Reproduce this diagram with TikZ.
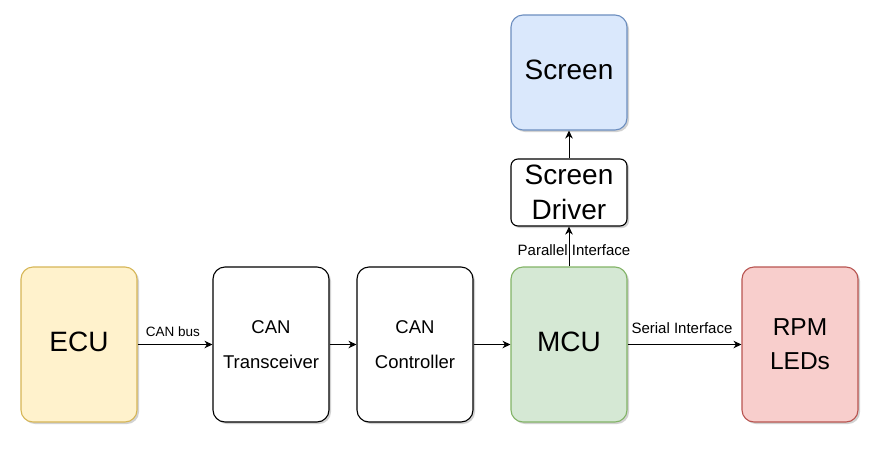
\documentclass[tikz,border=0pt]{standalone}
\usepackage{fontspec}
\setmainfont{Liberation Sans}
\usetikzlibrary{arrows.meta,shadows}
\definecolor{ecuF}{HTML}{FFF2CC}\definecolor{ecuD}{HTML}{D6B656}
\definecolor{mcuF}{HTML}{D5E8D4}\definecolor{mcuD}{HTML}{82B366}
\definecolor{scrF}{HTML}{DAE8FC}\definecolor{scrD}{HTML}{6C8EBF}
\definecolor{rpmF}{HTML}{F8CECC}\definecolor{rpmD}{HTML}{B85450}
\tikzset{
  blk/.style={draw=black, fill=white, rectangle, rounded corners=12pt, line width=1.1pt,
    minimum width=116pt, minimum height=155pt, inner sep=0pt, align=center,
    drop shadow={shadow xshift=2pt, shadow yshift=-2pt, opacity=0.25, fill=black!70}},
  bigtxt/.style={font=\fontsize{28}{35}\selectfont},
  onebig/.style={bigtxt, text height=20pt, text depth=7pt},
  midtxt/.style={font=\fontsize{18.5}{35}\selectfont},
  rpmtxt/.style={font=\fontsize{24.5}{34}\selectfont},
  lbl/.style={anchor=base, inner sep=0pt},
  conn/.style={line width=1pt, -{Stealth[length=8pt,width=7.5pt,inset=2.5pt]}}
}
\begin{document}
\begin{tikzpicture}[x=1pt,y=-1pt]
\useasboundingbox (0,0) rectangle (876,448);
\node[blk, onebig, fill=ecuF, draw=ecuD] (ecu) at (79,344.5) {ECU};
\node[blk, midtxt] (trx) at (271,344.5) {CAN\\Transceiver};
\node[blk, midtxt] (ctl) at (415,344.5) {CAN\\Controller};
\node[blk, onebig, fill=mcuF, draw=mcuD] (mcu) at (569,344.5) {MCU};
\node[blk, rpmtxt, fill=rpmF, draw=rpmD] (rpm) at (800,344.5) {RPM\\LEDs};
\node[blk, onebig, fill=scrF, draw=scrD, minimum height=115pt] (scr) at (569,72.5) {Screen};
\node[blk, bigtxt, minimum height=67pt, rounded corners=7pt] (drv) at (569,192.5) {Screen\\Driver};
\draw[conn] (ecu.east) -- (trx.west);
\draw[conn] (trx.east) -- (ctl.west);
\draw[conn] (ctl.east) -- (mcu.west);
\draw[conn] (mcu.east) -- (rpm.west);
\draw[conn] (mcu.north) -- (drv.south);
\draw[conn] (drv.north) -- (scr.south);
\node[lbl, font=\fontsize{13.5}{16}\selectfont] (lcan) at (173,336) {CAN bus};
\node[lbl, font=\fontsize{15}{18}\selectfont] (lser) at (682,333) {Serial Interface};
\node[lbl, font=\fontsize{15}{18}\selectfont] (lpar) at (574,255) {Parallel Interface};
\end{tikzpicture}
\end{document}
